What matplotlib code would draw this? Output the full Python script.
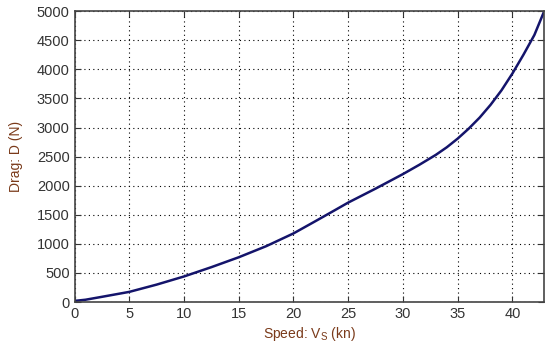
import numpy as np
import matplotlib
matplotlib.use('Agg')
import matplotlib.pyplot as plt

# speed (kn) vs drag (N)
speed = [0, 1, 2.5, 5, 7.5, 10, 12.5, 15, 17.5, 20, 22, 23.6, 25, 27.5, 30,
         31.5, 33, 34, 35, 36, 37, 38, 39, 40, 41, 42, 42.9]
drag = [20, 40, 90, 175, 300, 440, 600, 770, 960, 1180, 1390, 1560, 1710, 1950, 2200,
        2360, 2530, 2660, 2810, 2980, 3170, 3390, 3640, 3930, 4250, 4590, 5000]

plt.rcParams['font.family'] = ['Liberation Sans', 'DejaVu Sans']
plt.rcParams['mathtext.fontset'] = 'custom'
plt.rcParams['mathtext.rm'] = 'Liberation Sans'

fig = plt.figure(figsize=(5.5, 3.48), dpi=100)
ax = fig.add_axes([0.1355, 0.132, 0.854, 0.836])

ax.plot(speed, drag, color='#14146b', linewidth=1.8)

ax.set_xlim(0, 42.9)
ax.set_ylim(0, 5000)
ax.set_xticks(np.arange(0, 41, 5))
ax.set_yticks(np.arange(0, 5001, 500))
ax.grid(True, linestyle=(0, (1, 3)), color='black', linewidth=0.8)
ax.tick_params(direction='in', top=True, right=True, labelsize=10.5,
               colors='#333333', length=4)
for s in ax.spines.values():
    s.set_color('#444444')
    s.set_linewidth(1.2)

ax.set_xlabel('Speed: V$_\\mathrm{S}$ (kn)', color='#7a3a1a', fontsize=10, labelpad=3)
ax.set_ylabel('Drag: D (N)', color='#7a3a1a', fontsize=10, labelpad=10)

fig.savefig('out.png', dpi=100)
